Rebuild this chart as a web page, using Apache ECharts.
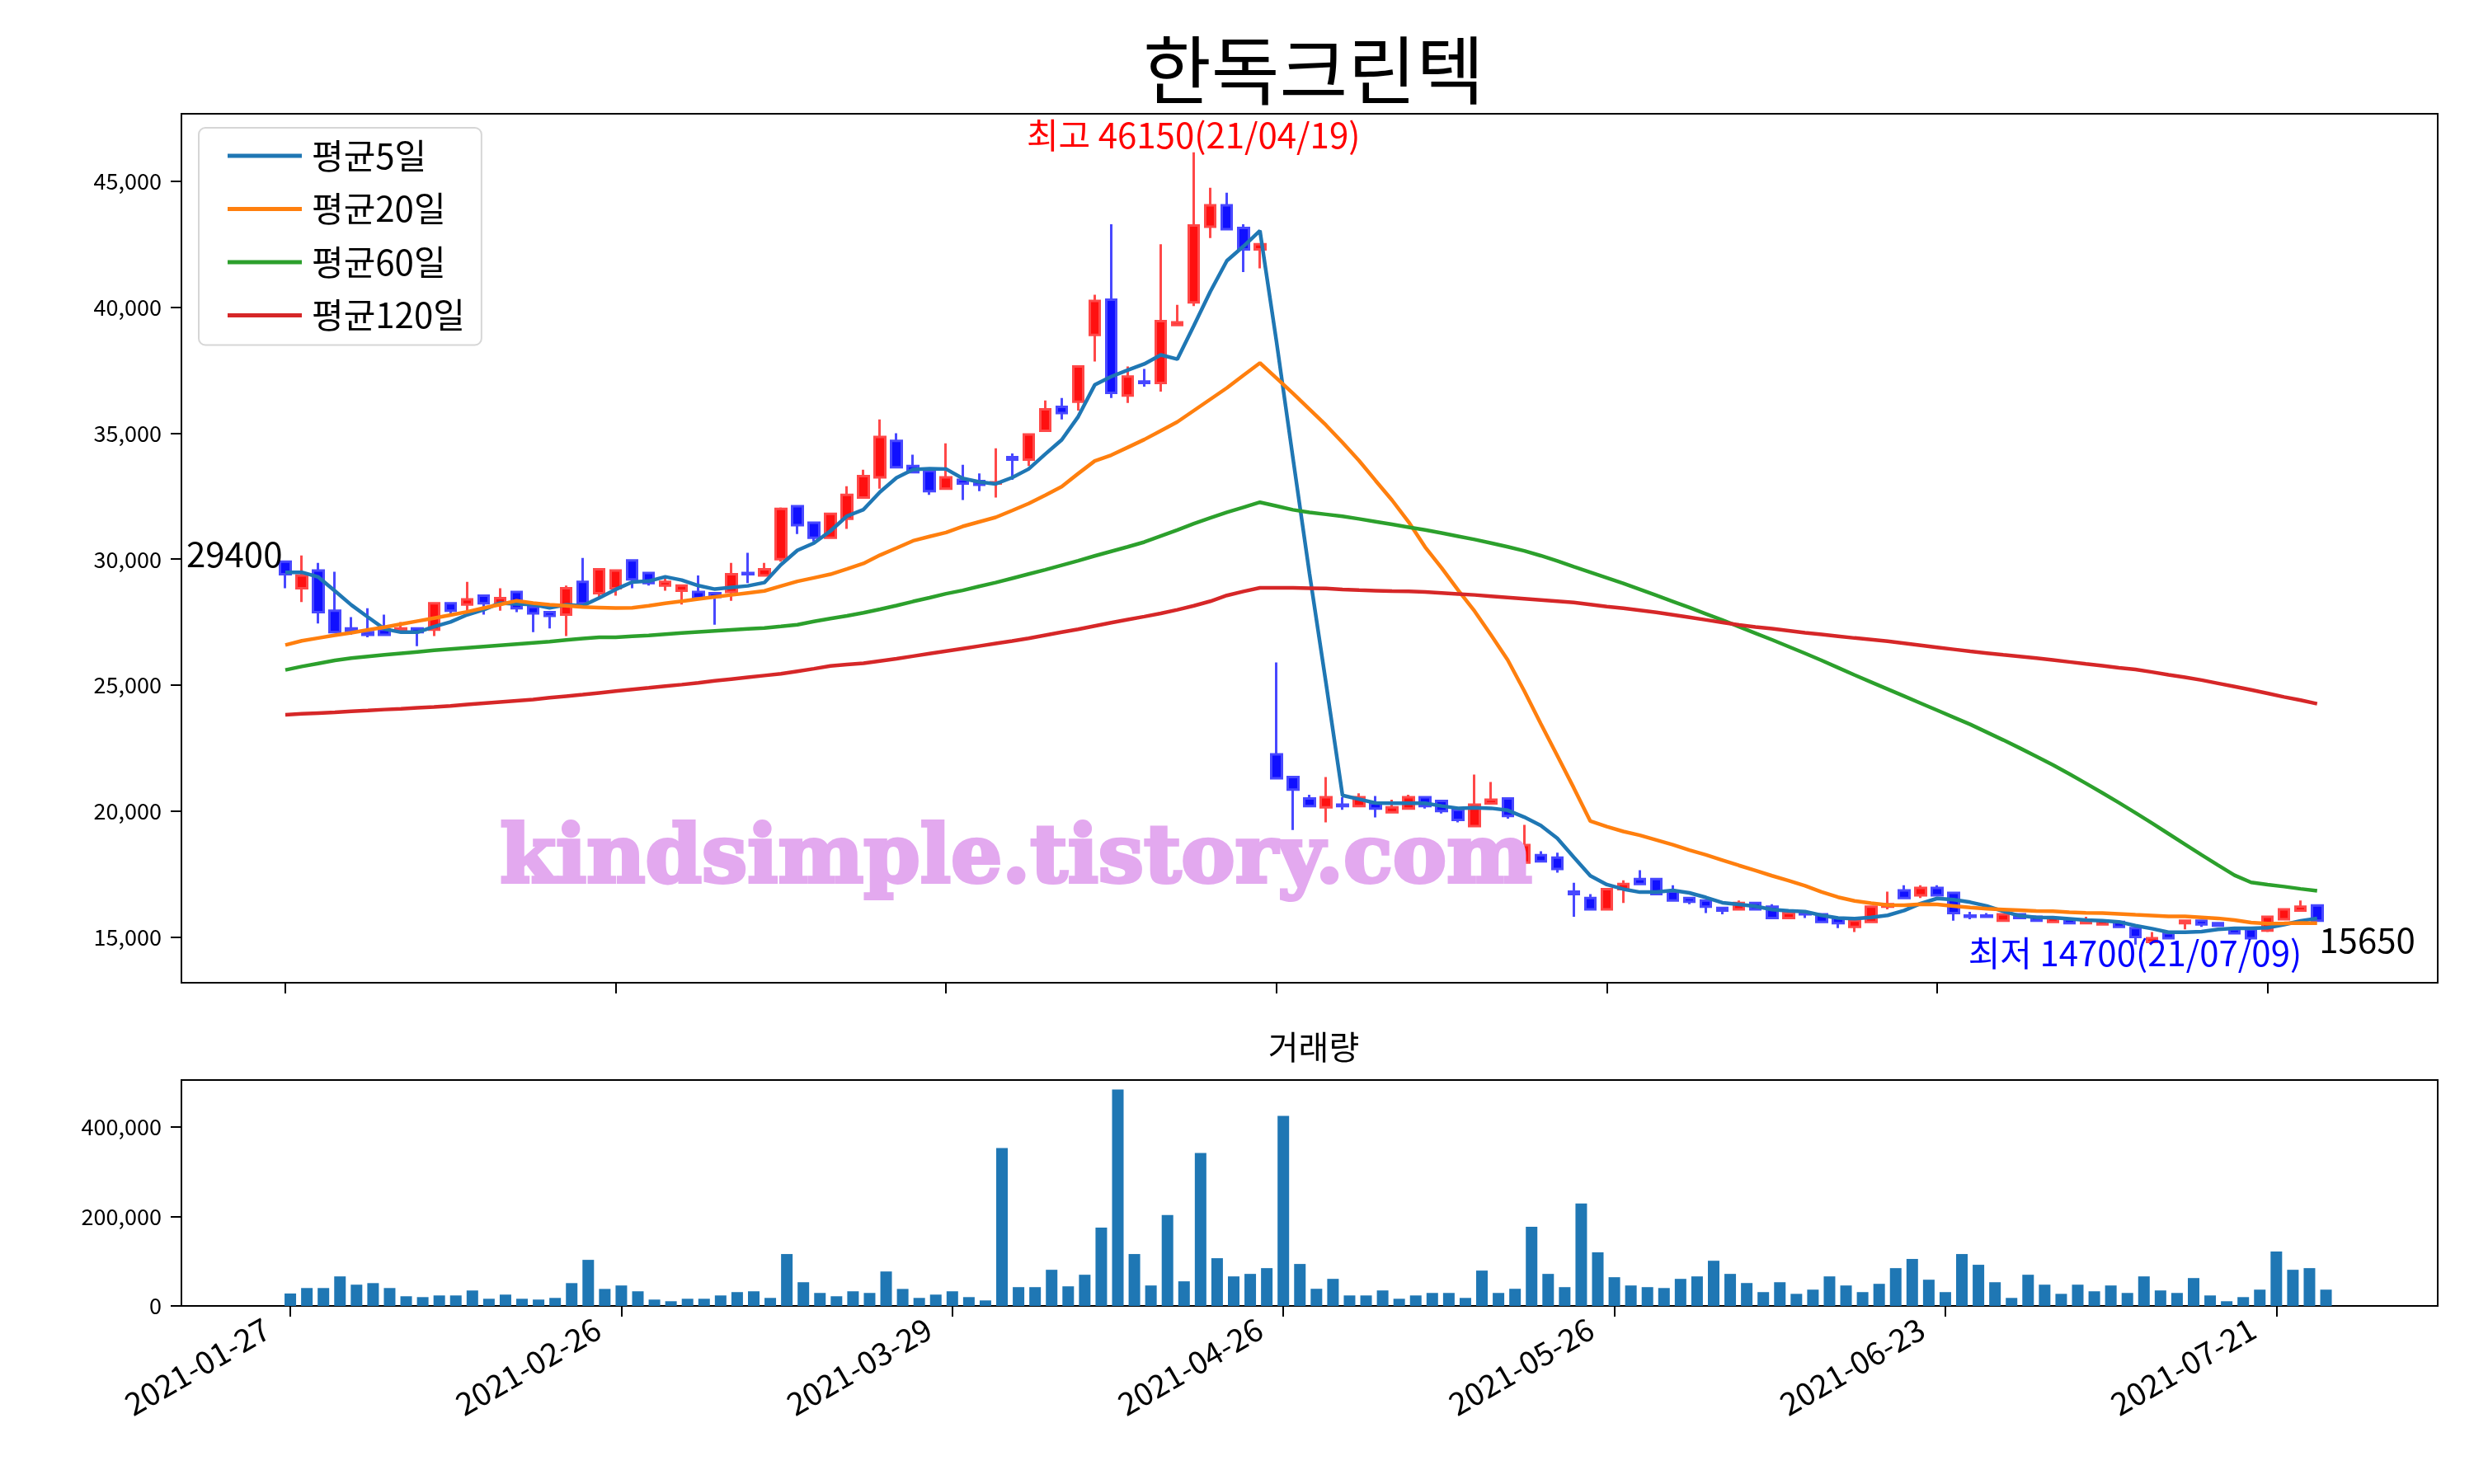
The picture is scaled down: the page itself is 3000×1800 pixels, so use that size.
<!DOCTYPE html>
<html>
<head>
<meta charset="utf-8">
<script src="https://cdn.jsdelivr.net/npm/echarts@6/dist/echarts.min.js"></script>
<style>
  html, body { margin: 0; padding: 0; background: #fff; }
  #chart { width: 3000px; height: 1800px; }
</style>
</head>
<body>
<div id="chart"></div>
<script>
// 일봉 데이터 (2021-01-27 ~ 2021-07-26, 거래일 인덱스 기준)
const opens = [
  29900, 28850, 29550, 27950, 27250, 27100, 27200, 27150, 27250, 27200,
  28250, 28200, 28550, 28250, 28700, 28100, 27900, 27800, 29100, 28650,
  28850, 29950, 29450, 28950, 28750, 28700, 28650, 28700, 29450, 29350,
  30000, 32100, 31450, 30850, 31600, 32450, 33250, 34700, 33700, 33500,
  32800, 33150, 33100, 33000, 34050, 33950, 35100, 36050, 36250, 38900,
  40300, 36500, 37050, 37000, 39300, 40200, 43200, 44050, 43150, 42300,
  22250, 21350, 20500, 20150, 20250, 20200, 20300, 19950, 20100, 20550,
  20400, 20050, 19400, 20300, 20500, 17950, 18250, 18150, 16800, 16550,
  16100, 16900, 17300, 17300, 16800, 16550, 16450, 16150, 16100, 16350,
  16200, 15750, 15950, 15900, 15750, 15400, 15600, 16200, 16850, 16650,
  16950, 16750, 15850, 15850, 15650, 15900, 15800, 15600, 15700, 15550,
  15500, 15600, 15350, 14800, 15150, 15550, 15650, 15550, 15300, 15300,
  15250, 15700, 16050, 16250
];
const highs = [
  29900, 30150, 29850, 29500, 27700, 28050, 27800, 27500, 27250, 28250,
  28250, 29100, 28550, 28850, 28700, 28100, 27900, 28950, 30050, 29600,
  29550, 29950, 29450, 29250, 28950, 29350, 28650, 29850, 30250, 29850,
  32050, 32100, 31450, 31800, 32900, 33550, 35550, 35000, 34150, 33500,
  34600, 33750, 33400, 34400, 34200, 35000, 36300, 36400, 37650, 40500,
  43300, 37650, 37550, 42500, 40100, 46150, 44750, 44550, 43300, 42500,
  25900, 21350, 20650, 21350, 20550, 20700, 20600, 20450, 20650, 20600,
  20400, 20050, 21450, 21150, 20500, 19450, 18400, 18350, 17150, 16700,
  16900, 17250, 17650, 17300, 17050, 16550, 16450, 16150, 16450, 16350,
  16300, 15950, 16050, 15900, 15750, 15650, 16200, 16800, 17050, 17050,
  17050, 16750, 16000, 15950, 15900, 15900, 15800, 15800, 15700, 15800,
  15650, 15600, 15350, 15200, 15150, 15650, 15650, 15550, 15400, 15300,
  15800, 16100, 16450, 16250
];
const lows = [
  28850, 28300, 27450, 27100, 27000, 26900, 27000, 27100, 26550, 26950,
  27800, 27950, 27800, 27950, 27900, 27100, 27250, 26950, 28250, 28500,
  28550, 28850, 28950, 28750, 28200, 28450, 27400, 28350, 29050, 29350,
  29900, 31000, 30700, 30850, 31200, 32400, 32800, 33650, 33400, 32550,
  32800, 32350, 32700, 32450, 33150, 33700, 35100, 35550, 35900, 37850,
  36400, 36200, 36850, 36650, 39300, 40050, 42750, 43100, 41400, 41550,
  21300, 19250, 20200, 19550, 20050, 20200, 19750, 19950, 20100, 20100,
  19900, 19550, 19400, 20300, 19700, 17900, 17950, 17550, 15800, 16050,
  16050, 16350, 17050, 16700, 16450, 16300, 15950, 15900, 16100, 16100,
  15750, 15750, 15750, 15600, 15350, 15200, 15600, 16100, 16500, 16550,
  16650, 15650, 15700, 15750, 15650, 15700, 15600, 15600, 15550, 15550,
  15500, 15400, 14700, 14800, 14900, 15300, 15400, 15450, 15100, 14900,
  15200, 15700, 16050, 15650
];
const closes = [
  29400, 29350, 27900, 27100, 27150, 27000, 27000, 27250, 27100, 28250,
  27950, 28400, 28250, 28450, 28050, 27850, 27750, 28850, 28250, 29600,
  29550, 29200, 29050, 29100, 28950, 28450, 28500, 29400, 29400, 29600,
  32000, 31350, 30850, 31800, 32550, 33300, 34850, 33650, 33450, 32700,
  33250, 33000, 32950, 33050, 33950, 34950, 35950, 35800, 37650, 40250,
  36600, 37250, 37000, 39450, 39400, 43250, 44050, 43100, 42300, 42500,
  21300, 20850, 20200, 20550, 20200, 20550, 20100, 20150, 20550, 20200,
  20000, 19650, 20250, 20450, 19800, 18650, 18000, 17700, 16700, 16100,
  16900, 17100, 17100, 16700, 16450, 16400, 16200, 16050, 16350, 16100,
  15750, 15950, 15900, 15600, 15550, 15650, 16200, 16300, 16550, 16950,
  16650, 15950, 15800, 15800, 15900, 15750, 15650, 15750, 15550, 15650,
  15650, 15400, 15000, 14950, 14950, 15650, 15500, 15450, 15150, 14950,
  15800, 16100, 16200, 15650
];
const volumes = [
  27800, 40000, 40000, 66000, 47500, 51000, 40000, 21600, 19700, 23400,
  23400, 34500, 16000, 25300, 16000, 14200, 17900, 51000, 103000, 38000,
  45700, 32700, 14200, 10500, 16000, 16000, 23400, 30900, 32700, 17900,
  116000, 53000, 29000, 21600, 32700, 29000, 77000, 38000, 17900, 25300,
  32700, 19700, 12300, 353000, 42000, 42000, 80800, 43800, 69700, 175000,
  484000, 116000, 45700, 203000, 55000, 342000, 106700, 66000, 71600, 84500,
  425000, 93800, 38300, 60500, 23400, 23400, 34600, 16000, 23400, 29000,
  29000, 17900, 79000, 29000, 38300, 177000, 71600, 42000, 229000, 119700,
  64200, 45700, 42000, 40000, 60500, 66000, 101000, 71600, 51200, 30900,
  53000, 27000, 36400, 66000, 45700, 30900, 49400, 84500, 105000, 58600,
  30900, 116000, 92000, 53000, 17900, 69700, 47500, 27000, 47500, 32700,
  45700, 29000, 66000, 34600, 29000, 62300, 23400, 10500, 19700, 36400,
  121500, 80800, 84500, 36400
];
const ma5 = [
  29480, 29480, 29290, 28740, 28180, 27700, 27230, 27100, 27100, 27320,
  27510, 27790, 27990, 28260, 28220, 28200, 28070, 28190, 28150, 28460,
  28800, 29090, 29130, 29300, 29170, 28950, 28810, 28880, 28940, 29070,
  29780, 30350, 30640, 31120, 31710, 31970, 32670, 33230, 33560, 33590,
  33580, 33210, 33070, 32990, 33240, 33580, 34170, 34740, 35660, 36920,
  37250, 37510, 37750, 38110, 37940, 39270, 40630, 41850, 42420, 43040,
  38650, 34010, 29430, 25080, 20620, 20470, 20320, 20310, 20310, 20310,
  20200, 20110, 20130, 20110, 20030, 19760, 19430, 18920, 18170, 17430,
  17080, 16900, 16780, 16780, 16850, 16750, 16570, 16360, 16290, 16220,
  16090, 16040, 16010, 15860, 15750, 15730, 15780, 15860, 16050, 16330,
  16530, 16480, 16380, 16230, 16020, 15840, 15780, 15770, 15720, 15670,
  15650, 15600, 15450, 15330, 15190, 15190, 15210, 15300, 15340, 15340,
  15370, 15490, 15640, 15740
];
const ma20 = [
  26590, 26760, 26870, 26980, 27080, 27190, 27300, 27420, 27540, 27660,
  27780, 27910, 28060, 28200, 28350, 28260, 28190, 28150, 28100, 28080,
  28060, 28070, 28150, 28250, 28330, 28420, 28500, 28580, 28660, 28740,
  28930, 29120, 29260, 29400, 29610, 29830, 30160, 30440, 30730, 30900,
  31060, 31300, 31480, 31660, 31930, 32210, 32540, 32880, 33400, 33900,
  34130, 34440, 34750, 35100, 35450, 35900, 36350, 36800, 37300, 37790,
  37190, 36580, 35950, 35320, 34630, 33910, 33120, 32340, 31480, 30480,
  29650, 28770, 27930, 26980, 26000, 24770, 23470, 22200, 20920, 19600,
  19380, 19190, 19040, 18850, 18660, 18450, 18260, 18050, 17840, 17640,
  17430, 17240, 17030, 16790, 16580, 16430, 16340, 16270, 16260, 16300,
  16290, 16230, 16170, 16120, 16090, 16060, 16030, 16020, 15980, 15960,
  15950, 15920, 15880, 15850, 15820, 15820, 15780, 15740, 15670, 15570,
  15530, 15540, 15560, 15550
];
const ma60 = [
  25600, 25740, 25860, 25980, 26070, 26140, 26200, 26260, 26320, 26380,
  26430, 26480, 26530, 26580, 26630, 26680, 26730, 26790, 26850, 26900,
  26900, 26940, 26970, 27020, 27070, 27110, 27150, 27190, 27230, 27270,
  27330, 27400, 27530, 27640, 27750, 27870, 28010, 28160, 28320, 28470,
  28630, 28760, 28920, 29070, 29240, 29410, 29580, 29760, 29940, 30130,
  30310, 30490, 30680, 30920, 31160, 31410, 31640, 31860, 32060, 32260,
  32110, 31960, 31860, 31780, 31700, 31600, 31490, 31380, 31270, 31160,
  31040, 30910, 30780, 30640, 30490, 30330, 30140, 29930, 29700, 29480,
  29260, 29040, 28800, 28560, 28320, 28080, 27830, 27580, 27320, 27060,
  26800, 26530, 26260, 25980, 25690, 25400, 25120, 24840, 24560, 24280,
  24000, 23720, 23440, 23130, 22820, 22500, 22170, 21830, 21470, 21100,
  20720, 20330, 19930, 19520, 19100, 18680, 18260, 17850, 17450, 17170,
  17080, 17000, 16910, 16830
];
const ma120 = [
  23820, 23860, 23890, 23920, 23960, 23990, 24030, 24060, 24100, 24130,
  24170, 24230, 24280, 24330, 24380, 24430, 24500, 24560, 24620, 24690,
  24760, 24830, 24890, 24960, 25020, 25090, 25170, 25240, 25310, 25380,
  25450, 25550, 25650, 25760, 25820, 25870, 25960, 26050, 26150, 26250,
  26350, 26450, 26550, 26650, 26750, 26860, 26980, 27100, 27220, 27350,
  27480, 27600, 27720, 27850, 27990, 28150, 28330, 28560, 28720, 28860,
  28860, 28860, 28850, 28840, 28800, 28770, 28750, 28730, 28720, 28700,
  28660, 28620, 28580, 28530, 28480, 28430, 28380, 28330, 28280, 28200,
  28120, 28050, 27970, 27890, 27790, 27690, 27590, 27490, 27390, 27310,
  27240, 27160, 27080, 27010, 26940, 26870, 26810, 26740, 26660, 26580,
  26500, 26420, 26340, 26270, 26200, 26140, 26070, 26000, 25920, 25840,
  25770, 25690, 25620, 25520, 25410, 25310, 25200, 25070, 24940, 24810,
  24670, 24530, 24400, 24260
];
const tickPos = [0, 20, 40, 60, 80, 100, 120];
const tickLabels = ['2021-01-27', '2021-02-26', '2021-03-29', '2021-04-26', '2021-05-26', '2021-06-23', '2021-07-21'];
const priceTicks = [15000, 20000, 25000, 30000, 35000, 40000, 45000];
const volTicks = [0, 200000, 400000];
const highText = '최고 46150(21/04/19)';
const lowText = '최저 14700(21/07/09)';

const FONT = '"Noto Sans CJK KR", "Noto Sans", sans-serif';
const chart = echarts.init(document.getElementById('chart'), null, { renderer: 'canvas' });

const candleData = closes.map((c, i) => [i, opens[i], c, lows[i], highs[i]]);
const hiIdx = highs.indexOf(Math.max(...highs));
const loIdx = lows.indexOf(Math.min(...lows));
const last = closes.length - 1;

function lineSeries(name, arr, color) {
  return {
    name: name, type: 'line', xAxisIndex: 0, yAxisIndex: 0,
    data: arr.map((v, i) => [i, v]),
    showSymbol: false, symbol: 'none',
    lineStyle: { width: 4.5, color: color },
    itemStyle: { color: color },
    z: 3
  };
}

const fmt = v => Number(v).toLocaleString('en-US');
const tickStyle = { show: true, inside: false, length: 13, lineStyle: { color: '#000', width: 2 } };

const option = {
  animation: false,
  backgroundColor: '#fff',
  textStyle: { fontFamily: FONT },
  title: [
    { text: '한독크린텍', left: 1588, top: 26, textAlign: 'center',
      textStyle: { fontSize: 90, lineHeight: 108, fontWeight: 'normal', color: '#000', fontFamily: FONT } },
    { text: '거래량', left: 1588, top: 1240, textAlign: 'center',
      textStyle: { fontSize: 40, lineHeight: 50, fontWeight: 'normal', color: '#000', fontFamily: FONT } }
  ],
  legend: {
    data: ['평균5일', '평균20일', '평균60일', '평균120일'],
    orient: 'vertical', left: 241, top: 155,
    icon: 'rect', itemWidth: 90, itemHeight: 5, itemGap: 14.5,
    textStyle: { fontSize: 42, lineHeight: 50, color: '#000', fontFamily: FONT, padding: [0, 0, 0, 7] },
    backgroundColor: '#fff', borderColor: '#d6d6d6', borderWidth: 2, borderRadius: 8,
    padding: [9, 20, 11, 35]
  },
  grid: [
    { left: 220, top: 138, width: 2736, height: 1054, show: true, borderColor: '#000', borderWidth: 2,
      backgroundColor: 'transparent', outerBoundsMode: 'none' },
    { left: 220, top: 1310, width: 2736, height: 274, show: true, borderColor: '#000', borderWidth: 2,
      backgroundColor: 'transparent', outerBoundsMode: 'none' }
  ],
  xAxis: [
    { type: 'value', gridIndex: 0, min: -6.29, max: 130.3,
      axisLine: { show: false, onZero: false }, splitLine: { show: false },
      axisTick: Object.assign({ customValues: tickPos }, tickStyle),
      axisLabel: { show: false } },
    { type: 'value', gridIndex: 1, min: -6.58, max: 129.75,
      axisLine: { show: false, onZero: false }, splitLine: { show: false },
      axisTick: Object.assign({ customValues: tickPos }, tickStyle),
      axisLabel: { show: true, customValues: tickPos, rotate: 30, margin: 8, padding: [0, 33, 0, 0],
        fontSize: 38, color: '#000', fontFamily: FONT,
        formatter: v => tickLabels[tickPos.indexOf(v)] || '' } }
  ],
  yAxis: [
    { type: 'value', gridIndex: 0, min: 13183, max: 47684,
      axisLine: { show: false, onZero: false }, splitLine: { show: false },
      axisTick: Object.assign({ customValues: priceTicks }, tickStyle),
      axisLabel: { show: true, customValues: priceTicks, margin: 24, fontSize: 27, color: '#000', fontFamily: FONT, formatter: fmt } },
    { type: 'value', gridIndex: 1, min: 0, max: 505000,
      axisLine: { show: false, onZero: false }, splitLine: { show: false },
      axisTick: Object.assign({ customValues: volTicks }, tickStyle),
      axisLabel: { show: true, customValues: volTicks, margin: 24, fontSize: 27, color: '#000', fontFamily: FONT, formatter: fmt } }
  ],
  series: [
    {
      name: '일봉', type: 'candlestick', xAxisIndex: 0, yAxisIndex: 0,
      data: candleData, barWidth: 13,
      itemStyle: {
        color: '#ff1010', color0: '#1010ff',
        borderColor: '#ff4848', borderColor0: '#4848ff', borderWidth: 3
      },
      z: 2,
      markPoint: {
        symbol: 'circle', symbolSize: 1, silent: true,
        itemStyle: { color: 'rgba(0,0,0,0)' },
        label: { show: true, fontFamily: FONT, fontSize: 42 },
        data: [
          { coord: [0, closes[0]], label: { formatter: String(closes[0]), position: [0, 0], align: 'right', verticalAlign: 'bottom', color: '#000', fontSize: 42, offset: [-3, -3] } },
          { coord: [last, closes[last]], label: { formatter: String(closes[last]), position: [0, 0], align: 'left', verticalAlign: 'top', color: '#000', fontSize: 42, offset: [3, 3] } },
          { coord: [hiIdx, highs[hiIdx]], label: { formatter: highText, position: [0, 0], align: 'center', verticalAlign: 'bottom', color: '#ff0000', fontSize: 42, offset: [0, 1] } },
          { coord: [loIdx, lows[loIdx]], label: { formatter: lowText, position: [0, 0], align: 'center', verticalAlign: 'top', color: '#0000ff', fontSize: 42, offset: [0, -10] } }
        ]
      }
    },
    lineSeries('평균5일', ma5, '#1f77b4'),
    lineSeries('평균20일', ma20, '#ff7f0e'),
    lineSeries('평균60일', ma60, '#2ca02c'),
    lineSeries('평균120일', ma120, '#d62728'),
    {
      name: '거래량', type: 'bar', xAxisIndex: 1, yAxisIndex: 1,
      data: volumes.map((v, i) => [i, v]), barWidth: 14,
      itemStyle: { color: '#1f77b4' }
    }
  ],
  graphic: [
    { type: 'text', x: 1232, y: 1045, z: 100, silent: true,
      style: { text: 'kindsimple.tistory.com', fill: '#e3a9ef', stroke: '#e3a9ef', lineWidth: 4,
        font: 'bold 98px "DejaVu Serif", serif', textAlign: 'center', textVerticalAlign: 'middle' } }
  ]
};

chart.setOption(option);
</script>
</body>
</html>
